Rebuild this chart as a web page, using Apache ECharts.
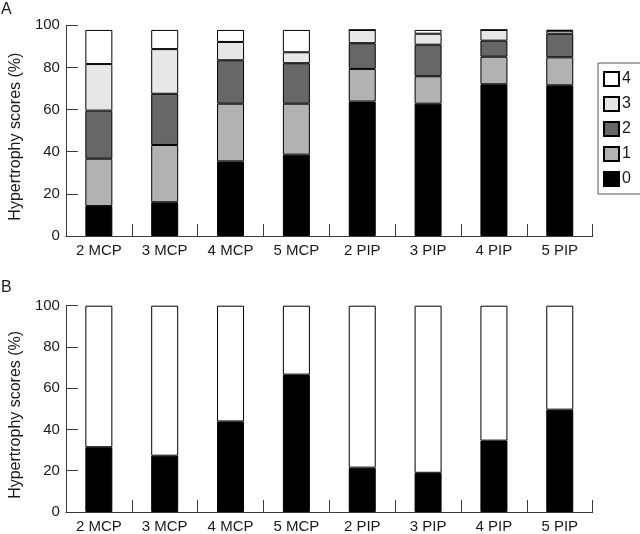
<!DOCTYPE html>
<html>
<head>
<meta charset="utf-8">
<script src="https://cdn.jsdelivr.net/npm/echarts@6/dist/echarts.min.js"></script>
<style>html,body{margin:0;padding:0;background:#fff}#c{width:640px;height:534px}</style>
</head>
<body>
<div id="c"></div>
<script>
var categories = ['2 MCP', '3 MCP', '4 MCP', '5 MCP', '2 PIP', '3 PIP', '4 PIP', '5 PIP'];
var yTicks = [0, 20, 40, 60, 80, 100];
// Panel A: percentage of joints with each hypertrophy score
var scoreA0 = [14.2, 16.0, 35.4, 38.6, 63.8, 62.8, 72.0, 71.5];
var scoreA1 = [22.5, 27.2, 27.4, 24.2, 15.5, 13.0, 13.1, 13.3];
var scoreA2 = [22.8, 24.3, 20.6, 19.2, 12.2, 15.0, 7.6, 11.2];
var scoreA3 = [22.1, 21.2, 8.7, 5.2, 6.3, 5.2, 5.1, 1.4];
var scoreA4 = [16.2, 9.1, 5.7, 10.6, 0, 1.8, 0, 0.4];
// Panel B
var panelBBlack = [31.4, 27.3, 43.9, 66.6, 21.5, 19.0, 34.6, 49.6];
var panelBWhite = [68.6, 72.7, 56.1, 33.4, 78.5, 81.0, 65.4, 50.4];
var legendNames = ['4', '3', '2', '1', '0'];

var FONT = 'Liberation Sans, Arial, sans-serif';
var colors = {'0': '#000000', '1': '#b2b2b2', '2': '#676767', '3': '#e7e7e7', '4': '#ffffff'};
var axisColor = '#3a3a3a';
var textColor = '#1a1a1a';

function xAxisDef(gi) {
  return {
    type: 'category', gridIndex: gi, data: categories, boundaryGap: true,
    axisLine: {show: true, lineStyle: {color: axisColor, width: 1}},
    axisTick: {show: true, inside: true, length: 12, alignWithLabel: false, lineStyle: {color: axisColor}},
    axisLabel: {fontFamily: FONT, fontSize: 15, color: textColor, margin: 7}
  };
}
function yAxisDef(gi) {
  return {
    type: 'value', gridIndex: gi, min: yTicks[0], max: yTicks[yTicks.length - 1], interval: 20,
    name: 'Hypertrophy scores (%)', nameLocation: 'middle', nameGap: 38,
    nameTextStyle: {fontFamily: FONT, fontSize: 16, color: textColor, padding: [0, 12, 0, 0]},
    axisLine: {show: true, lineStyle: {color: axisColor, width: 1}},
    axisTick: {show: true, inside: true, length: 12, lineStyle: {color: axisColor}},
    splitLine: {show: false},
    axisLabel: {fontFamily: FONT, fontSize: 15, color: textColor, margin: 6}
  };
}
function barSeries(name, data, color, xi, stack) {
  return {
    name: name, type: 'bar', xAxisIndex: xi, yAxisIndex: xi, stack: stack, data: data,
    barWidth: 27,
    itemStyle: {color: color, borderColor: '#000', borderWidth: 1},
    emphasis: {disabled: true}, animation: false
  };
}

var chart = echarts.init(document.getElementById('c'), null, {renderer: 'canvas'});
chart.setOption({
  animation: false,
  backgroundColor: '#ffffff',
  textStyle: {fontFamily: FONT},
  grid: [
    {left: 56, right: 47.3, top: 25.3, bottom: 298},
    {left: 56, right: 47.3, top: 305.7, bottom: 18}
  ],
  xAxis: [xAxisDef(0), xAxisDef(1)],
  yAxis: [yAxisDef(0), yAxisDef(1)],
  legend: {
    data: legendNames, orient: 'vertical', left: 598, top: 63,
    itemWidth: 15, itemHeight: 14, itemGap: 9,
    padding: [8, 16, 7, 5],
    borderColor: '#555', borderWidth: 1,
    textStyle: {fontFamily: FONT, fontSize: 16, color: textColor, padding: [0, 0, 0, -2]},
    icon: 'rect', selectedMode: false
  },
  graphic: [
    {type: 'text', left: 1, top: 2, style: {text: 'A', font: '16px ' + FONT, fill: textColor}},
    {type: 'text', left: 1, top: 280, style: {text: 'B', font: '16px ' + FONT, fill: textColor}}
  ],
  series: [
    barSeries('0', scoreA0, colors['0'], 0, 'a'),
    barSeries('1', scoreA1, colors['1'], 0, 'a'),
    barSeries('2', scoreA2, colors['2'], 0, 'a'),
    barSeries('3', scoreA3, colors['3'], 0, 'a'),
    barSeries('4', scoreA4, colors['4'], 0, 'a'),
    barSeries('B black', panelBBlack, '#000000', 1, 'b'),
    barSeries('B white', panelBWhite, '#ffffff', 1, 'b')
  ]
});
</script>
</body>
</html>
